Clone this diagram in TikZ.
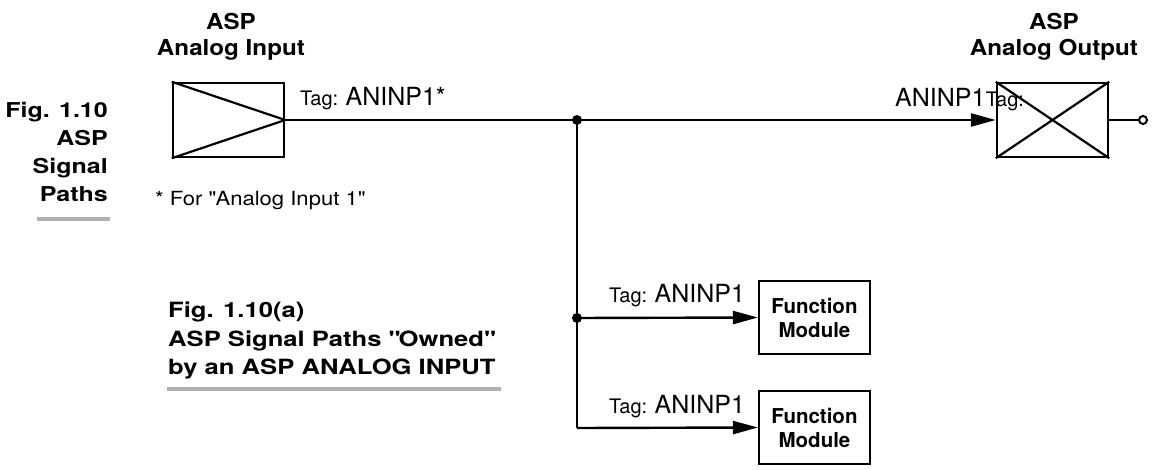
\documentclass[tikz,border=0pt]{standalone}
\usepackage{fontspec}
\setmainfont{TeX Gyre Heros}
\newfontfamily\wideA[FakeStretch=1.1]{TeX Gyre Heros}
\newfontfamily\wideB[FakeStretch=1.22]{TeX Gyre Heros}
\newfontfamily\wideC[FakeStretch=1.13]{TeX Gyre Heros}
\usetikzlibrary{arrows.meta}
\tikzset{
  blk/.style={draw, line width=2.4pt, minimum width=111pt, minimum height=74pt, inner sep=0pt},
  fmod/.style={draw, line width=2.2pt, minimum width=111pt, minimum height=73pt, inner sep=0pt, align=center, font=\fontsize{20.5}{24}\selectfont\bfseries},
  wire/.style={line width=2.4pt},
  sig/.style={wire, -{Triangle[length=25pt,width=13pt]}},
  jdot/.style={circle, fill=black, minimum size=10pt, inner sep=0pt},
  ttl/.style={align=center, font=\wideA\fontsize{22}{25.5}\selectfont\bfseries},
  captl/.style={font=\wideB\fontsize{20.5}{28}\selectfont\bfseries, inner sep=0pt, anchor=base east},
  capta/.style={font=\wideB\fontsize{21}{28}\selectfont\bfseries, inner sep=0pt, anchor=base west},
  note/.style={font=\wideC\fontsize{19.5}{24}\selectfont},
  uline/.style={line width=4.5pt, color=black!30},
  tagsm/.style={font=\fontsize{20}{22}\selectfont, inner sep=0pt},
  tagbg/.style={font=\fontsize{25}{26}\selectfont, inner sep=0pt},
}
\newcommand{\tagtxt}[1]{{\fontsize{20}{22}\selectfont Tag: }{\fontsize{25}{26}\selectfont #1}}
\begin{document}
\begin{tikzpicture}[x=1pt, y=-1pt]
\useasboundingbox (0,0) rectangle (1154,470);

% titles
\node[ttl] (tin) at (231,37) {ASP\\Analog Input};
\node[ttl] (tout) at (1054,37) {ASP\\Analog Output};

% input box
\node[blk] (inb) at (228.5,120) {};
\draw[line width=2.2pt] (inb.north west) -- (inb.east) -- (inb.south west);

% output box
\node[blk] (outb) at (1052.5,120) {};
\draw[line width=2.2pt] (outb.north west) -- (outb.south east);
\draw[line width=2.2pt] (outb.south west) -- (outb.north east);
\node[circle, draw, line width=2pt, minimum size=8pt, inner sep=0pt] (term) at (1143,120) {};
\draw[wire] (outb.east) -- (term.west);

% function modules
\node[fmod] (fm1) at (814.5,317.5) {Function\\Module};
\node[fmod] (fm2) at (814.5,427.5) {Function\\Module};

% junctions
\node[jdot] (j1) at (577,120) {};
\node[jdot] (j2) at (577,318) {};
\coordinate (c3) at (577,428);

\draw[wire] (inb.east) -- (j1.center);
\draw[sig] (j1.center) -- (outb.west);
\draw[wire] (j1.center) -- (c3);
\draw[sig] (j2.center) -- (fm1.west);
\draw[sig] (c3) -- (fm2.west);

% tags
\node[anchor=base west, inner sep=0pt] (tg0) at (300,106) {\tagtxt{ANINP1*}};
\node[anchor=base west, inner sep=0pt] (tg1) at (609,303) {\tagtxt{ANINP1}};
\node[anchor=base west, inner sep=0pt] (tg2) at (609,413) {\tagtxt{ANINP1}};
\node[tagbg, anchor=base west] (tg3a) at (895,107) {ANINP1};
\node[tagsm, anchor=base west] (tg3b) at (tg3a.base east) {Tag:};

% left caption
\node[captl] (cl1) at (108,118) {Fig. 1.10};
\node[captl] (cl2) at (108,146) {ASP};
\node[captl] (cl3) at (108,174) {Signal};
\node[captl] (cl4) at (108,202) {Paths};
\draw[uline] (37,219) -- (110,219);

\node[note, anchor=base west, inner sep=0pt] (fn) at (155,206) {* For \textquotedbl Analog Input 1\textquotedbl};

% caption (a)
\node[capta] (ca1) at (168,318) {Fig. 1.10(a)};
\node[capta] (ca2) at (168,346) {ASP Signal Paths \textquotedbl Owned\textquotedbl};
\node[capta] (ca3) at (168,374) {by an ASP ANALOG INPUT};
\draw[uline] (167,389) -- (501,389);
\end{tikzpicture}
\end{document}
